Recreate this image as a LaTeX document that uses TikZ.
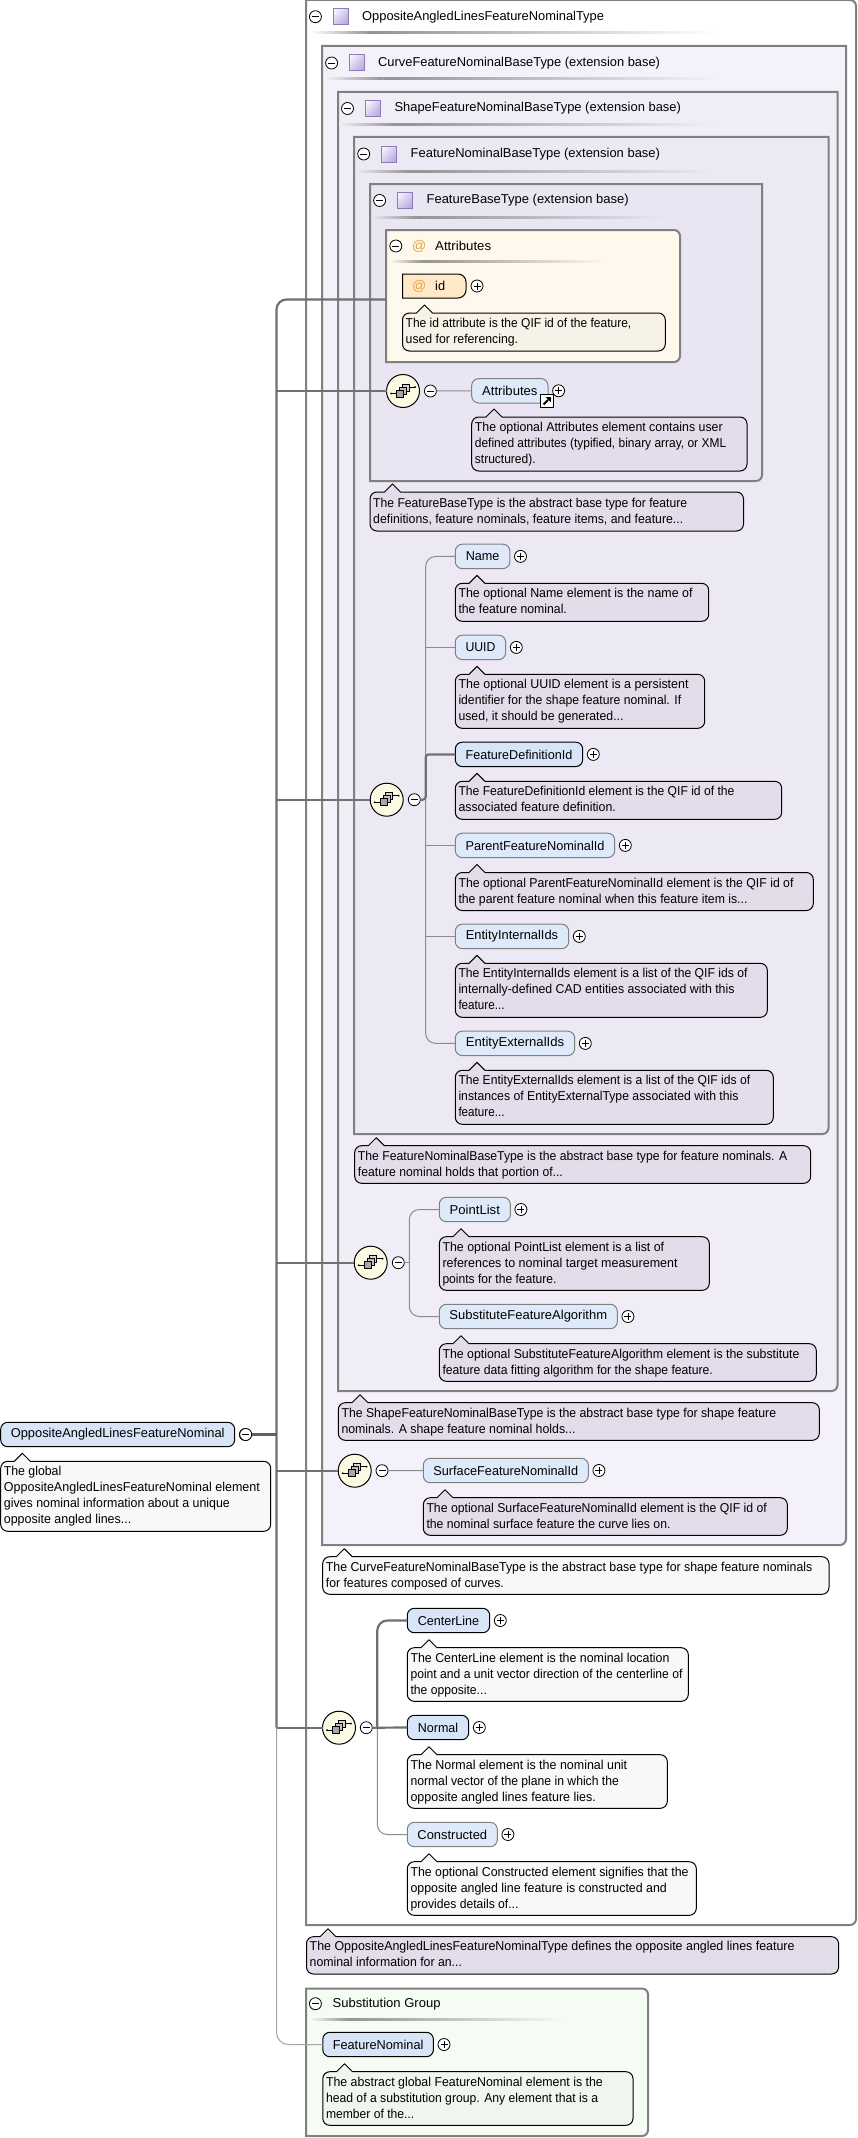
\documentclass[tikz,border=0pt]{standalone}
\usepackage{fontspec}
\usepackage{graphicx}
\usetikzlibrary{shadings}
\setmainfont{Liberation Sans}
\definecolor{lvA}{HTML}{F4F1FA}
\definecolor{lvB}{HTML}{F0EDF7}
\definecolor{lvC}{HTML}{ECE8F4}
\definecolor{lvD}{HTML}{E9E5F2}
\definecolor{notePurple}{HTML}{E3DCEA}
\definecolor{notePlain}{HTML}{F8F8F8}
\definecolor{noteCream}{HTML}{F7F2E7}
\definecolor{noteGreen}{HTML}{EFF6EE}
\definecolor{attrBg}{HTML}{FFF8EC}
\definecolor{substBg}{HTML}{F4FCF4}
\definecolor{boxLine}{HTML}{808080}
\definecolor{elemReq}{HTML}{D8E5F8}
\definecolor{elemOpt}{HTML}{DEEAF9}
\definecolor{atColor}{HTML}{E8A63C}
\definecolor{iconFill}{HTML}{B0A0DC}
\definecolor{iconLine}{HTML}{8C7CBC}
\definecolor{discFill}{HTML}{FBFBE4}
\definecolor{idFill}{HTML}{FFE9C8}
\newcommand{\labelfont}{\fontsize{12.87}{16}\selectfont}
% sets a run of text to an exact width, keeping its height
\newcommand{\fit}[2]{\resizebox{#1pt}{\height}{#2}}
\tikzset{
  elemreq/.style={draw=black,fill=elemReq,line width=1pt,rounded corners=7pt,minimum height=24.4pt,inner sep=0pt,outer sep=0pt,font=\labelfont},
  elemopt/.style={elemreq,draw=boxLine,fill=elemOpt},
  toggle/.style={circle,draw=black,fill=white,line width=.8pt,minimum size=12pt,inner sep=0pt,outer sep=0pt},
  minusbtn/.style={toggle,path picture={\draw[line width=.8pt] ([xshift=-3.5pt]path picture bounding box.center) -- ([xshift=3.5pt]path picture bounding box.center);}},
  plusbtn/.style={toggle,path picture={\draw[line width=.8pt] ([xshift=-3.5pt]path picture bounding box.center) -- ([xshift=3.5pt]path picture bounding box.center) ([yshift=-3.5pt]path picture bounding box.center) -- ([yshift=3.5pt]path picture bounding box.center);}},
  seqdisc/.style={circle,draw=black,fill=discFill,line width=1pt,minimum size=33pt,inner sep=0pt,outer sep=0pt},
  title/.style={anchor=west,inner sep=0pt,font=\labelfont},
  notetext/.style={anchor=west,inner sep=0pt,align=left,font=\labelfont},
  linkreq/.style={draw=black!56,line width=2.2pt},
  linkopt/.style={draw=black!45,line width=1pt},
  linkmain/.style={draw=black!62,line width=3.4pt},
}
% container with a softened right side: #6 = 1 rounds the upper right corner as well
\newcommand{\container}[6]{%
  \ifnum#6=1
    \path[fill=#5,draw=boxLine,line width=2pt] (#1,#2) -- ({#3-6},#2) .. controls ({#3-2.7},#2) and (#3,{#2+2.7}) .. (#3,{#2+6}) -- (#3,{#4-6}) .. controls (#3,{#4-2.7}) and ({#3-2.7},#4) .. ({#3-6},#4) -- (#1,#4) -- cycle;
  \else
    \path[fill=#5,draw=boxLine,line width=2pt] (#1,#2) -- (#3,#2) -- (#3,{#4-6}) .. controls (#3,{#4-2.7}) and ({#3-2.7},#4) .. ({#3-6},#4) -- (#1,#4) -- cycle;
  \fi}
% purple square standing for a complex type
\newcommand{\typeicon}[2]{%
  \path[upper left=white,lower right=iconFill,upper right=iconFill!55!white,lower left=iconFill!55!white,shade] (#1,{#2-8}) rectangle ({#1+15},{#2+8});
  \draw[iconLine,line width=1pt] (#1,{#2-8}) rectangle ({#1+15},{#2+8});}
% fading rule under a header
\newcommand{\hdrrule}[4]{%
  \path[left color=#4,right color=black!42] (#1,{#3-1}) rectangle ({#1+0.15*(#2-#1)},{#3+1});
  \path[left color=black!42,right color=#4] ({#1+0.15*(#2-#1)},{#3-1}) rectangle (#2,{#3+1});}
% callout: name, x1, y1, x2, y2, apex x, fill, text
\newcommand{\callout}[8]{%
  \path[fill=#7,draw=black,line width=1pt,line join=round]
    ({#6+8},#3) -- ({#4-7},#3) .. controls ({#4-3.1},#3) and (#4,{#3+3.1}) .. (#4,{#3+7})
    -- (#4,{#5-7}) .. controls (#4,{#5-3.1}) and ({#4-3.1},#5) .. ({#4-7},#5)
    -- ({#2+7},#5) .. controls ({#2+3.1},#5) and (#2,{#5-3.1}) .. (#2,{#5-7})
    -- (#2,{#3+7}) .. controls (#2,{#3+3.1}) and ({#2+3.1},#3) .. ({#2+7},#3)
    -- ({#6-8},#3) -- (#6,{#3-8}) -- cycle;
  \node[notetext] (#1) at ({#2+3},{(#3+#5)/2+0.4}) {\strut #8\strut};}
% sequence compositor disc with its small overlapping squares
\newcommand{\seqdisc}[3]{%
  \node[seqdisc] (#1) at (#2,#3) {};
  \begin{scope}[shift={(#1.center)}]
    \draw[line width=.8pt] (-12,2.5) -- (-6,2.5) (6,-4) -- (12,-4);
    \fill (-12,2.5) circle (1pt) (12,-4) circle (1pt);
    \path[fill=black!18,draw=black,line width=.8pt] (-1,-7) rectangle (6,0);
    \path[fill=black!25,draw=black,line width=.8pt] (-3.8,-4) rectangle (3.2,3);
    \path[fill=black!35,draw=black,line width=.8pt] (-6.3,-1) rectangle (0.7,6);
  \end{scope}}
% element box with a plus toggle beside it: style, name, x1, x2, y, text
\newcommand{\element}[6]{%
  \node[#1,anchor=west,minimum width={#4-#3}] (#2) at (#3,#5) {#6};
  \node[plusbtn] (#2-more) at ({#4+10.6},#5) {};}
\begin{document}
\begin{tikzpicture}[x=1pt,y=-1pt]
\useasboundingbox (0,0) rectangle (857,2138);
\fill[white] (0,0) rectangle (857,2138);

% nested type containers
\container{306}{0}{856}{1925}{white}{1}
\container{322}{46}{846}{1545}{lvA}{0}
\container{338}{92}{837.5}{1391}{lvB}{0}
\container{354}{137}{828.5}{1134}{lvC}{0}
\container{370}{184}{762}{481}{lvD}{0}
\container{386}{230}{680}{362}{attrBg}{1}
\container{306}{1988.5}{648}{2136}{substBg}{1}

% headers
\node[minusbtn] (hOuter) at (315.4,16.7) {};
\typeicon{333.5}{16.2}
\node[title] (tOuter) at (362,16.7) {OppositeAngledLinesFeatureNominalType};
\hdrrule{309.5}{719}{33}{white}
\node[minusbtn] (hCurve) at (331.6,63) {};
\typeicon{349.5}{62.2}
\node[title] (tCurve) at (378,63) {\fit{281.8}{CurveFeatureNominalBaseType (extension base)}};
\hdrrule{324}{719}{79}{lvA}
\node[minusbtn] (hShape) at (347.5,108.5) {};
\typeicon{365.5}{108.3}
\node[title] (tShape) at (394.3,108.5) {\fit{286.5}{ShapeFeatureNominalBaseType (extension base)}};
\hdrrule{339}{715}{125}{lvB}
\node[minusbtn] (hNominal) at (363.7,154) {};
\typeicon{381.5}{154}
\node[title] (tNominal) at (410.5,154) {\fit{249.3}{FeatureNominalBaseType (extension base)}};
\hdrrule{356}{713}{171}{lvC}
\node[minusbtn] (hBase) at (379.6,200.5) {};
\typeicon{397.5}{200}
\node[title] (tBase) at (426.4,200.5) {\fit{202.1}{FeatureBaseType (extension base)}};
\hdrrule{372}{667}{217}{lvD}

% attribute group
\node[minusbtn] (hAttrs) at (395.8,246) {};
\node[title,text=atColor,font=\fontsize{14}{16}\selectfont] (atAttrs) at (412,246.5) {@};
\node[title] (tAttrs) at (435,246) {\fit{56}{Attributes}};
\hdrrule{390}{606}{261}{attrBg}
\path[fill=idFill,draw=black,line width=1pt] (402.5,274) -- (458,274) .. controls (462.4,274) and (466,277.6) .. (466,282) -- (466,290) .. controls (466,294.4) and (462.4,298) .. (458,298) -- (402.5,298) -- cycle;
\node[title,text=atColor,font=\fontsize{14}{16}\selectfont] (atId) at (412,286.5) {@};
\node[title] (idName) at (435,286) {id};
\node[plusbtn] (idMore) at (477,286) {};
\callout{nId}{402.5}{313}{665.3}{351}{424.5}{noteCream}{\fit{225.6}{The id attribute is the QIF id of the feature,}\\\fit{112.4}{used for referencing.}}
\coordinate (attrsPort) at (386,299.5);

% user attributes element
\seqdisc{seqA}{403}{391}
\node[minusbtn] (mA) at (430.4,391) {};
\element{elemopt}{Attributes}{471.7}{548}{390.8}{\fit{55.3}{Attributes}}
\path[fill=white,draw=black,line width=1pt] (540.5,394.5) rectangle (553,407.5);
\draw[line width=2pt] (543.5,404.5) -- (548,400);
\fill (545.5,397) -- (550.8,397) -- (550.8,402.3) -- cycle;
\callout{nAttributes}{471.7}{417}{747}{471}{494}{notePurple}{\fit{247.8}{The optional Attributes element contains user}\\\fit{251.3}{defined attributes (typified, binary array, or XML}\\\fit{60.8}{structured).}}
\callout{nBase}{370}{492}{743.5}{531}{392.5}{notePurple}{\fit{314}{The FeatureBaseType is the abstract base type for feature}\\\fit{310}{definitions, feature nominals, feature items, and feature...}}

% feature nominal base sequence
\seqdisc{seqB}{386.7}{799.7}
\node[minusbtn] (mB) at (414.3,799.7) {};
\coordinate (busB) at (425.7,799.7);
\element{elemopt}{Name}{455.3}{509.9}{556.4}{\fit{33.7}{Name}}
\callout{nName}{455.3}{583.3}{708.7}{621.3}{477}{notePurple}{\fit{234}{The optional Name element is the name of}\\\fit{108.4}{the feature nominal.}}
\element{elemopt}{UUID}{455.3}{505.7}{647.4}{\fit{30}{UUID}}
\callout{nUUID}{455.3}{674.3}{704.7}{728.3}{477}{notePurple}{\fit{230}{The optional UUID element is a persistent}\\\fit{222.7}{identifier for the shape feature nominal. If}\\\fit{165}{used, it should be generated...}}
\element{elemreq}{FeatureDefinitionId}{455.3}{582.7}{754.4}{\fit{106.7}{FeatureDefinitionId}}
\callout{nFDI}{455.3}{781.3}{781.7}{819.3}{477}{notePurple}{\fit{276}{The FeatureDefinitionId element is the QIF id of the}\\\fit{157.4}{associated feature definition.}}
\element{elemopt}{ParentFeatureNominalId}{455.3}{614.7}{845.4}{\fit{139}{ParentFeatureNominalId}}
\callout{nParent}{455.3}{872.5}{813.3}{910.5}{477}{notePurple}{\fit{335}{The optional ParentFeatureNominalId element is the QIF id of}\\\fit{289}{the parent feature nominal when this feature item is...}}
\element{elemopt}{EntityInternalIds}{455.3}{568.7}{936.4}{\fit{92.3}{EntityInternalIds}}
\callout{nInternal}{455.3}{963.3}{767.3}{1017.3}{477}{notePurple}{\fit{289}{The EntityInternalIds element is a list of the QIF ids of}\\\fit{276}{internally-defined CAD entities associated with this}\\\fit{46}{feature...}}
\element{elemopt}{EntityExternalIds}{455.3}{574.7}{1043.4}{\fit{98.3}{EntityExternalIds}}
\callout{nExternal}{455.3}{1070.3}{773.3}{1124.3}{477}{notePurple}{\fit{291.7}{The EntityExternalIds element is a list of the QIF ids of}\\\fit{280}{instances of EntityExternalType associated with this}\\\fit{46}{feature...}}
\callout{nNominal}{354.7}{1145.7}{810.7}{1183.3}{376.3}{notePurple}{\fit{429.4}{The FeatureNominalBaseType is the abstract base type for feature nominals. A}\\\fit{205}{feature nominal holds that portion of...}}

% shape feature sequence
\seqdisc{seqC}{370.7}{1262.7}
\node[minusbtn] (mC) at (398.3,1262.7) {};
\coordinate (busC) at (409.3,1262.7);
\element{elemopt}{PointList}{439.3}{510.3}{1209.5}{\fit{50.3}{PointList}}
\callout{nPointList}{439.3}{1236.7}{709.3}{1290.3}{461}{notePurple}{\fit{221.7}{The optional PointList element is a list of}\\\fit{235}{references to nominal target measurement}\\\fit{114}{points for the feature.}}
\element{elemopt}{SubstituteFeatureAlgorithm}{439.3}{617.3}{1316.5}{\fit{157.7}{SubstituteFeatureAlgorithm}}
\callout{nSubstitute}{439.3}{1343.7}{816.3}{1381.3}{461}{notePurple}{\fit{357}{The optional SubstituteFeatureAlgorithm element is the substitute}\\\fit{270.4}{feature data fitting algorithm for the shape feature.}}
\callout{nShape}{338.3}{1402.7}{819.3}{1440.3}{360}{notePurple}{\fit{434.7}{The ShapeFeatureNominalBaseType is the abstract base type for shape feature}\\\fit{234}{nominals. A shape feature nominal holds...}}

% curve feature sequence
\seqdisc{seqD}{354.7}{1470.7}
\node[minusbtn] (mD) at (382,1470.7) {};
\element{elemopt}{SurfaceFeatureNominalId}{423.3}{588.3}{1470.5}{\fit{144.7}{SurfaceFeatureNominalId}}
\callout{nSurface}{423.3}{1497.7}{787.3}{1535.3}{445}{notePurple}{\fit{340.4}{The optional SurfaceFeatureNominalId element is the QIF id of}\\\fit{244}{the nominal surface feature the curve lies on.}}
\callout{nCurve}{322.7}{1556.7}{829}{1594.3}{344.3}{notePlain}{\fit{486.4}{The CurveFeatureNominalBaseType is the abstract base type for shape feature nominals}\\\fit{178}{for features composed of curves.}}

% opposite angled lines sequence
\seqdisc{seqE}{339}{1727.7}
\node[minusbtn] (mE) at (366.3,1727.7) {};
\coordinate (busE) at (377.3,1727.7);
\element{elemreq}{CenterLine}{407.3}{489.7}{1620.5}{\fit{61.3}{CenterLine}}
\callout{nCenter}{407.3}{1647.7}{688.3}{1701.3}{429}{notePlain}{\fit{259}{The CenterLine element is the nominal location}\\\fit{272}{point and a unit vector direction of the centerline of}\\\fit{76.4}{the opposite...}}
\element{elemreq}{Normal}{407.3}{468.7}{1727.5}{\fit{40.3}{Normal}}
\callout{nNormal}{407.3}{1754.7}{667.3}{1808.3}{429}{notePlain}{\fit{216.7}{The Normal element is the nominal unit}\\\fit{208.4}{normal vector of the plane in which the}\\\fit{185.4}{opposite angled lines feature lies.}}
\element{elemopt}{Constructed}{407.3}{497.3}{1834.5}{\fit{69.7}{Constructed}}
\callout{nConstructed}{407.3}{1861.7}{696.3}{1915.3}{429}{notePlain}{\fit{278}{The optional Constructed element signifies that the}\\\fit{256.4}{opposite angled line feature is constructed and}\\\fit{108}{provides details of...}}
\callout{nOuter}{306.5}{1936.7}{838.6}{1974}{328}{notePurple}{\fit{484.9}{The OppositeAngledLinesFeatureNominalType defines the opposite angled lines feature}\\\fit{152.3}{nominal information for an...}}

% substitution group
\node[minusbtn] (hSubst) at (315.4,2003.7) {};
\node[title] (tSubst) at (332.4,2003.7) {\fit{108}{Substitution Group}};
\hdrrule{309.5}{564}{2019}{substBg}
\element{elemreq}{FeatureNominal}{322.8}{433.4}{2044.5}{\fit{90.7}{FeatureNominal}}
\callout{nFeature}{322.8}{2071.7}{633}{2125.3}{344.5}{noteGreen}{\fit{276.9}{The abstract global FeatureNominal element is the}\\\fit{272.1}{head of a substitution group. Any element that is a}\\\fit{88.2}{member of the...}}

% the global element
\element{elemreq}{Main}{0.7}{234.7}{1434.5}{\fit{213.7}{OppositeAngledLinesFeatureNominal}}
\node[minusbtn] (mMain) at (245.7,1434.5) {} ;
\callout{nMain}{0.7}{1461.3}{270.7}{1531.3}{22.3}{notePlain}{\fit{57.4}{The global}\\\fit{256}{OppositeAngledLinesFeatureNominal element}\\\fit{226}{gives nominal information about a unique}\\\fit{127.4}{opposite angled lines...}}
\coordinate (trunk) at (276.5,1434.5);

% connectors of the global element
\draw[linkopt,black!35,rounded corners=12pt] (seqE.west -| trunk) -- (FeatureNominal.west -| trunk) -- (FeatureNominal.west);
\draw[linkreq,rounded corners=10pt] (attrsPort) -- (attrsPort -| trunk) -- (seqE.west -| trunk);
\draw[linkreq] (seqE.west -| trunk) -- (seqE.west);
\draw[linkreq] (seqA.west -| trunk) -- (seqA.west);
\draw[linkreq] (seqB.west -| trunk) -- (seqB.west);
\draw[linkreq] (seqC.west -| trunk) -- (seqC.west);
\draw[linkreq] (seqD.west -| trunk) -- (seqD.west);
\draw[linkmain] (mMain.east) -- (trunk);

% connectors inside the sequences
\draw[linkopt] (mA.east) -- (Attributes.west);
\draw[linkopt,rounded corners=10pt] (Name.west) -- (Name.west -| busB) -- (EntityExternalIds.west -| busB) -- (EntityExternalIds.west);
\draw[linkopt] (UUID.west -| busB) -- (UUID.west);
\draw[linkopt] (ParentFeatureNominalId.west -| busB) -- (ParentFeatureNominalId.west);
\draw[linkopt] (EntityInternalIds.west -| busB) -- (EntityInternalIds.west);
\draw[linkreq,rounded corners=3pt] (mB.east) -- (busB) -- (FeatureDefinitionId.west -| busB) -- (FeatureDefinitionId.west);
\draw[linkopt,rounded corners=10pt] (PointList.west) -- (PointList.west -| busC) -- (SubstituteFeatureAlgorithm.west -| busC) -- (SubstituteFeatureAlgorithm.west);
\draw[linkopt] (mC.east) -- (busC);
\draw[linkopt] (mD.east) -- (SurfaceFeatureNominalId.west);
\draw[linkopt,rounded corners=10pt] (busE) -- (Constructed.west -| busE) -- (Constructed.west);
\draw[linkreq,rounded corners=10pt] (busE) -- (CenterLine.west -| busE) -- (CenterLine.west);
\draw[linkreq] (mE.east) -- (Normal.west);
\end{tikzpicture}
\end{document}
